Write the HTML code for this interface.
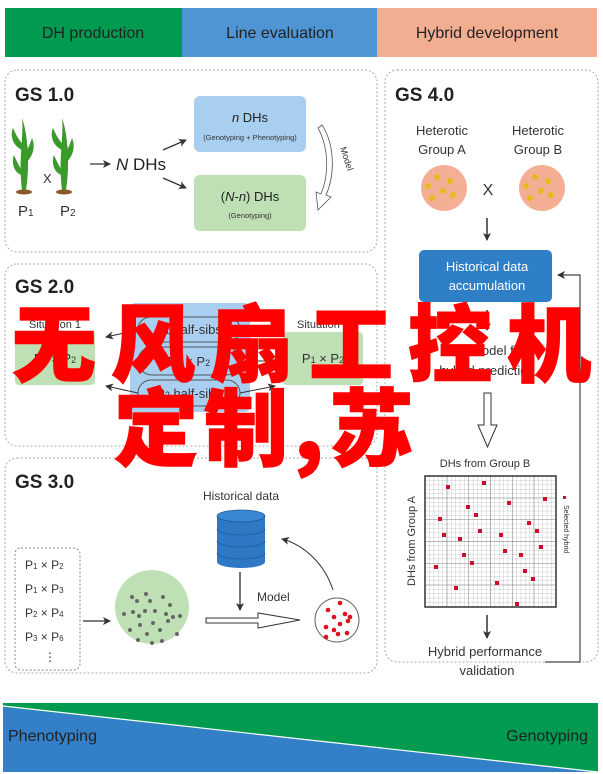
<!DOCTYPE html>
<html><head><meta charset="utf-8"><style>
html,body{margin:0;padding:0;background:#fff;}
body{width:603px;height:774px;position:relative;overflow:hidden;font-family:"Liberation Sans",sans-serif;}
svg{position:absolute;left:0;top:0;}
.ov{position:absolute;color:#ff0000;font-family:"Noto Sans CJK SC","WenQuanYi Zen Hei",sans-serif;font-weight:900;font-size:84px;line-height:1;white-space:nowrap;letter-spacing:15px;-webkit-text-stroke:1.5px #ff0000;}
</style></head><body>
<svg width="603" height="774" viewBox="0 0 603 774" font-family="Liberation Sans, sans-serif">
<defs>
<marker id="a" markerWidth="8" markerHeight="8" refX="7" refY="4" orient="auto" markerUnits="userSpaceOnUse"><path d="M0,0 L8,4 L0,8 L2,4z" fill="#333"/></marker>
<pattern id="g" width="4.35" height="4.35" patternUnits="userSpaceOnUse" x="425" y="476"><path d="M0,0 H4.35 M0,0 V4.35" stroke="#999" stroke-width="0.5" fill="none"/></pattern>
<pattern id="g2" width="21.75" height="21.75" patternUnits="userSpaceOnUse" x="425" y="476"><path d="M0,0 H21.75 M0,0 V21.75" stroke="#666" stroke-width="0.8" fill="none"/></pattern>
</defs>
<rect x="5" y="8" width="177" height="49" fill="#009a50"/>
<rect x="182" y="8" width="195" height="49" fill="#4f95d4"/>
<rect x="377" y="8" width="220" height="49" fill="#f2ae90"/>
<g font-size="16" fill="#222" text-anchor="middle">
<text x="93" y="38">DH production</text>
<text x="280" y="38">Line evaluation</text>
<text x="487" y="38">Hybrid development</text>
</g>
<g fill="none" stroke="#aaa" stroke-dasharray="2,2">
<rect x="5" y="70" width="372" height="182" rx="12"/>
<rect x="5" y="264" width="372" height="182" rx="12"/>
<rect x="5" y="458" width="372" height="215" rx="12"/>
<rect x="385" y="70" width="213" height="592" rx="12"/>
</g>
<g font-size="19" font-weight="bold" fill="#222">
<text x="15" y="101">GS 1.0</text><text x="15" y="293">GS 2.0</text><text x="15" y="488">GS 3.0</text><text x="395" y="101">GS 4.0</text>
</g>
<g fill="#3a9a2a">
<path d="M22,190 C18,160 24,135 22,118 C28,135 30,165 26,190z"/>
<path d="M22,150 C12,145 10,135 13,128 C18,140 22,142 24,148z"/>
<path d="M24,165 C35,155 35,145 32,138 C28,150 24,155 23,162z"/>
<path d="M22,175 C12,172 12,160 14,155 C18,165 22,170 24,175z"/>
<path d="M62,190 C58,160 64,135 62,118 C68,135 70,165 66,190z"/>
<path d="M62,150 C52,145 50,135 53,128 C58,140 62,142 64,148z"/>
<path d="M64,165 C75,155 75,145 72,138 C68,150 64,155 63,162z"/>
<path d="M62,175 C52,172 52,160 54,155 C58,165 62,170 64,175z"/>
</g>
<ellipse cx="24" cy="192" rx="8" ry="2.5" fill="#8a5a2a"/><ellipse cx="64" cy="192" rx="8" ry="2.5" fill="#8a5a2a"/>
<g font-size="15" fill="#333"><text x="18" y="216">P<tspan font-size="10">1</tspan></text><text x="60" y="216">P<tspan font-size="10">2</tspan></text><text x="43" y="183" font-size="13">X</text></g>
<line x1="90" y1="164" x2="110" y2="164" stroke="#333" stroke-width="1.3" marker-end="url(#a)"/>
<text x="116" y="170" font-size="17" fill="#222"><tspan font-style="italic">N</tspan> DHs</text>
<line x1="163" y1="150" x2="186" y2="140" stroke="#333" stroke-width="1.3" marker-end="url(#a)"/>
<line x1="163" y1="178" x2="186" y2="188" stroke="#333" stroke-width="1.3" marker-end="url(#a)"/>
<rect x="194" y="96" width="112" height="56" rx="6" fill="#a9cff0"/>
<rect x="194" y="175" width="112" height="56" rx="6" fill="#bfe0b4"/>
<text x="250" y="122" font-size="13" fill="#222" text-anchor="middle"><tspan font-style="italic">n</tspan> DHs</text>
<text x="250" y="140" font-size="7.5" fill="#333" text-anchor="middle">(Genotyping + Phenotyping)</text>
<text x="250" y="201" font-size="13" fill="#222" text-anchor="middle">(<tspan font-style="italic">N</tspan>-<tspan font-style="italic">n</tspan>) DHs</text>
<text x="250" y="218" font-size="7.5" fill="#333" text-anchor="middle">(Genotyping)</text>
<path d="M322,125 C335,145 335,175 326,195 L331,197 L318,210 L316,192 L321,194 C329,175 329,148 318,128z" fill="#fff" stroke="#555" stroke-width="0.8"/>
<text x="340" y="148" font-size="9" fill="#333" transform="rotate(72 340 148)">Model</text>
<rect x="130" y="303" width="120" height="109" rx="5" fill="#a9cff0"/>
<rect x="15" y="332" width="80" height="53" rx="4" fill="#bfe0b4"/>
<rect x="283" y="332" width="80" height="53" rx="4" fill="#bfe0b4"/>
<g fill="none" stroke="#555" stroke-width="1">
<rect x="138" y="317" width="102" height="25" rx="12.5"/>
<rect x="138" y="347" width="102" height="28" rx="14"/>
<rect x="138" y="380" width="102" height="26" rx="13"/>
</g>
<g font-size="13" fill="#333" text-anchor="middle">
<text x="189" y="334">P<tspan font-size="9">1</tspan> half-sibs</text>
<text x="189" y="366">P<tspan font-size="9">1</tspan> × P<tspan font-size="9">2</tspan></text>
<text x="189" y="398">P<tspan font-size="9">2</tspan> half-sibs</text>
<text x="55" y="363">P<tspan font-size="9">1</tspan> × P<tspan font-size="9">2</tspan></text>
<text x="323" y="363">P<tspan font-size="9">1</tspan> × P<tspan font-size="9">2</tspan></text>
<text x="55" y="328" font-size="11">Situation 1</text>
<text x="323" y="328" font-size="11">Situation 2</text>
</g>
<line x1="138" y1="330" x2="106" y2="337" stroke="#333" marker-end="url(#a)"/>
<line x1="138" y1="393" x2="106" y2="386" stroke="#333" marker-end="url(#a)"/>
<line x1="240" y1="393" x2="275" y2="386" stroke="#333" marker-end="url(#a)"/>
<line x1="240" y1="361" x2="275" y2="361" stroke="#333" marker-end="url(#a)"/>
<text x="241" y="500" font-size="12" fill="#333" text-anchor="middle">Historical data</text>
<path d="M217,516 V562 A24,6 0 0 0 265,562 V516z" fill="#2f78c4"/>
<ellipse cx="241" cy="516" rx="24" ry="6" fill="#3a86d0" stroke="#1f5a99" stroke-width="0.8"/>
<g fill="none" stroke="#1f5a99" stroke-width="0.8"><path d="M217,529 A24,6 0 0 0 265,529"/><path d="M217,541 A24,6 0 0 0 265,541"/><path d="M217,553 A24,6 0 0 0 265,553"/></g>
<line x1="240" y1="572" x2="240" y2="610" stroke="#666" stroke-width="1.8" marker-end="url(#a)"/>
<text x="257" y="601" font-size="12" fill="#333">Model</text>
<rect x="15" y="548" width="65" height="122" rx="6" fill="none" stroke="#888" stroke-dasharray="2,2"/>
<g font-size="12" fill="#333">
<text x="25" y="569">P<tspan font-size="8">1</tspan> × P<tspan font-size="8">2</tspan></text>
<text x="25" y="593">P<tspan font-size="8">1</tspan> × P<tspan font-size="8">3</tspan></text>
<text x="25" y="617">P<tspan font-size="8">2</tspan> × P<tspan font-size="8">4</tspan></text>
<text x="25" y="641">P<tspan font-size="8">3</tspan> × P<tspan font-size="8">6</tspan></text>
<text x="44" y="661">⋮</text>
</g>
<line x1="83" y1="621" x2="110" y2="621" stroke="#333" stroke-width="1.2" marker-end="url(#a)"/>
<circle cx="152" cy="607" r="37" fill="#bfe0b4"/>
<g fill="#666">
<circle cx="132" cy="597" r="2"/><circle cx="137" cy="601" r="2"/><circle cx="146" cy="594" r="2"/><circle cx="150" cy="601" r="2"/><circle cx="163" cy="597" r="2"/><circle cx="170" cy="605" r="2"/><circle cx="124" cy="614" r="2"/><circle cx="133" cy="612" r="2"/><circle cx="139" cy="616" r="2"/><circle cx="145" cy="611" r="2"/><circle cx="155" cy="611" r="2"/><circle cx="166" cy="614" r="2"/><circle cx="173" cy="617" r="2"/><circle cx="180" cy="616" r="2"/><circle cx="140" cy="625" r="2"/><circle cx="153" cy="623" r="2"/><circle cx="168" cy="621" r="2"/><circle cx="130" cy="630" r="2"/><circle cx="147" cy="634" r="2"/><circle cx="160" cy="630" r="2"/><circle cx="177" cy="634" r="2"/><circle cx="138" cy="640" r="2"/><circle cx="152" cy="643" r="2"/><circle cx="162" cy="641" r="2"/>
</g>
<path d="M206,618 H258 V613 L300,620 L258,628 V623 H206z" fill="#fff" stroke="#333" stroke-width="1"/>
<circle cx="337" cy="620" r="22" fill="#fff" stroke="#666"/>
<g fill="#e0101e"><circle cx="328" cy="610" r="2.3"/><circle cx="340" cy="603" r="2.3"/><circle cx="334" cy="617" r="2.3"/><circle cx="345" cy="614" r="2.3"/><circle cx="350" cy="617" r="2.3"/><circle cx="340" cy="624" r="2.3"/><circle cx="348" cy="621" r="2.3"/><circle cx="326" cy="627" r="2.3"/><circle cx="334" cy="630" r="2.3"/><circle cx="338" cy="634" r="2.3"/><circle cx="347" cy="633" r="2.3"/><circle cx="326" cy="637" r="2.3"/></g>
<path d="M333,590 C325,565 305,545 282,539" fill="none" stroke="#333" stroke-width="1" marker-end="url(#a)"/>
<g font-size="13" fill="#333" text-anchor="middle">
<text x="442" y="135">Heterotic</text><text x="442" y="154">Group A</text>
<text x="538" y="135">Heterotic</text><text x="538" y="154">Group B</text>
<text x="488" y="195" font-size="16">X</text>
</g>
<circle cx="444" cy="188" r="23" fill="#f4ae93"/><circle cx="542" cy="188" r="23" fill="#f4ae93"/>
<g fill="#e8b820"><circle cx="437" cy="177" r="3"/><circle cx="450" cy="181" r="3"/><circle cx="428" cy="186" r="3"/><circle cx="443" cy="191" r="3"/><circle cx="453" cy="195" r="3"/><circle cx="432" cy="198" r="3"/>
<circle cx="535" cy="177" r="3"/><circle cx="548" cy="181" r="3"/><circle cx="526" cy="186" r="3"/><circle cx="541" cy="191" r="3"/><circle cx="551" cy="195" r="3"/><circle cx="530" cy="198" r="3"/></g>
<line x1="487" y1="218" x2="487" y2="240" stroke="#333" stroke-width="1.5" marker-end="url(#a)"/>
<rect x="419" y="250" width="133" height="52" rx="5" fill="#2f7fc6"/>
<text x="487" y="271" font-size="13" fill="#fff" text-anchor="middle">Historical data</text>
<text x="487" y="290" font-size="13" fill="#fff" text-anchor="middle">accumulation</text>
<line x1="487" y1="310" x2="487" y2="330" stroke="#333" stroke-width="1.5" marker-end="url(#a)"/>
<text x="487" y="355" font-size="13" fill="#333" text-anchor="middle">GS model for</text>
<text x="487" y="375" font-size="13" fill="#333" text-anchor="middle">hybrid prediction</text>
<path d="M484,393 H491 V425 H497 L487.5,447 L478,425 H484z" fill="#fff" stroke="#333"/>
<text x="485" y="467" font-size="11" fill="#333" text-anchor="middle">DHs from Group B</text>
<rect x="425" y="476" width="131" height="131" fill="url(#g)"/>
<rect x="425" y="476" width="131" height="131" fill="url(#g2)" stroke="#333" stroke-width="1.5"/>
<text x="415" y="541" font-size="11" fill="#333" text-anchor="middle" transform="rotate(-90 415 541)">DHs from Group A</text>
<rect x="563" y="496" width="3" height="3" fill="#c8102e"/>
<text x="564" y="505" font-size="7" fill="#333" transform="rotate(90 564 505)">Selected hybrid</text>
<g fill="#c8102e">
<rect x="446" y="485" width="4" height="4"/><rect x="482" y="481" width="4" height="4"/><rect x="543" y="497" width="4" height="4"/><rect x="507" y="501" width="4" height="4"/><rect x="466" y="505" width="4" height="4"/><rect x="474" y="513" width="4" height="4"/><rect x="438" y="517" width="4" height="4"/><rect x="527" y="521" width="4" height="4"/><rect x="442" y="533" width="4" height="4"/><rect x="458" y="537" width="4" height="4"/><rect x="478" y="529" width="4" height="4"/><rect x="499" y="533" width="4" height="4"/><rect x="535" y="529" width="4" height="4"/><rect x="539" y="545" width="4" height="4"/><rect x="503" y="549" width="4" height="4"/><rect x="462" y="553" width="4" height="4"/><rect x="519" y="553" width="4" height="4"/><rect x="470" y="561" width="4" height="4"/><rect x="434" y="565" width="4" height="4"/><rect x="523" y="569" width="4" height="4"/><rect x="531" y="577" width="4" height="4"/><rect x="495" y="581" width="4" height="4"/><rect x="454" y="586" width="4" height="4"/><rect x="515" y="602" width="4" height="4"/>
</g>
<line x1="487" y1="615" x2="487" y2="638" stroke="#333" stroke-width="1.5" marker-end="url(#a)"/>
<text x="485" y="656" font-size="13" fill="#333" text-anchor="middle">Hybrid performance</text>
<text x="487" y="675" font-size="13" fill="#333" text-anchor="middle">validation</text>
<path d="M545,662 H580 V275 H558" fill="none" stroke="#444" stroke-width="1.2" marker-end="url(#a)"/>
<rect x="3" y="703" width="595" height="69" fill="#009a50"/>
<polygon points="3,707 598,772 3,772" fill="#3480c8"/>
<line x1="3" y1="706" x2="598" y2="772" stroke="#fff" stroke-width="1.2"/>
<text x="8" y="741" font-size="16" fill="#222">Phenotyping</text>
<text x="588" y="741" font-size="16" fill="#222" text-anchor="end">Genotyping</text>
</svg>
<div class="ov" style="left:12px;top:298px;">无风扇工控机</div>
<div class="ov" style="left:114px;top:382px;letter-spacing:6px;">定制,苏</div>
</body></html>
